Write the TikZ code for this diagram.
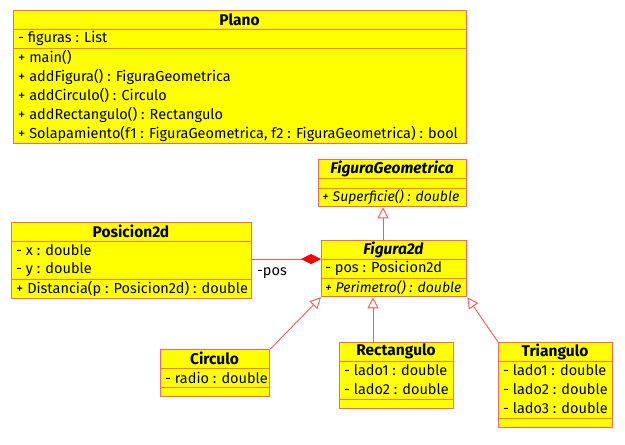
\documentclass[tikz,border=0pt]{standalone}
\usepackage{fontspec}
\setmainfont{Fira Sans}
\usetikzlibrary{arrows.meta}
\definecolor{umlfill}{RGB}{255,255,0}
\definecolor{umlborder}{RGB}{255,100,100}
\definecolor{umlsep}{RGB}{255,125,20}
\definecolor{umlline}{RGB}{255,85,85}
\begin{document}
\begin{tikzpicture}[x=1pt,y=-1pt,font=\fontsize{14.5}{16}\selectfont,
	classbox/.style={draw=umlborder,fill=umlfill,line width=1.3pt,inner sep=0pt,anchor=north west},
	member/.style={anchor=west,inner sep=0pt},
	opmember/.style={anchor=west,inner sep=0pt,font=\fontsize{14}{16}\selectfont\itshape},
	title/.style={inner sep=0pt,font=\fontsize{15.5}{16}\selectfont\bfseries},
	abstract/.style={inner sep=0pt,font=\fontsize{15.5}{16}\selectfont\bfseries\itshape},
	sep/.style={draw=umlsep,line width=1pt},
	inherit/.style={draw=umlline,line width=0.9pt,-{Triangle[open,length=11pt,width=11pt,fill=white]}},
	compose/.style={draw=umlline,line width=0.9pt,-{Diamond[length=20pt,width=10pt,fill=red,color=red]}}]
	\useasboundingbox (0,0) rectangle (625,445);
	% boxes
	\node[classbox,minimum width=453pt,minimum height=133pt] (plano) at (13,10) {};
	\node[classbox,minimum width=148pt,minimum height=47pt] (figgeo) at (318,159) {};
	\node[classbox,minimum width=145pt,minimum height=56pt] (fig2d) at (321,240) {};
	\node[classbox,minimum width=240pt,minimum height=76pt] (pos2d) at (11,222) {};
	\node[classbox,minimum width=109pt,minimum height=47pt] (circulo) at (160,349) {};
	\node[classbox,minimum width=114pt,minimum height=66pt] (rect) at (339,342) {};
	\node[classbox,minimum width=114pt,minimum height=85pt] (tri) at (498,342) {};
	% separators
	\foreach \b/\ya/\yb in {plano/29/48,figgeo/178/188,fig2d/259/278,pos2d/241/279,circulo/368/387,rect/361/399,tri/361/418}{
		\draw[sep] (\b.west |- 0,\ya) -- (\b.east |- 0,\ya);
		\draw[sep] (\b.west |- 0,\yb) -- (\b.east |- 0,\yb);
	}
	% Plano
	\node[title] (plano-t) at (239.5,19.5) {Plano};
	\node[member] (plano-a) at (18,38.5) {- figuras : List};
	\foreach \t [count=\i] in {{+ main()},{+ addFigura() : FiguraGeometrica},{+ addCirculo() : Circulo},{+ addRectangulo() : Rectangulo},{+ Solapamiento(f1 : FiguraGeometrica, f2 : FiguraGeometrica) : bool}}
		\node[member] (plano-m\i) at (18,38.5+19*\i) {\t};
	% FiguraGeometrica
	\node[abstract] (figgeo-t) at (392,168.5) {FiguraGeometrica};
	\node[opmember] (figgeo-m) at (322,197) {+ Superficie() : double};
	% Figura2d
	\node[abstract] (fig2d-t) at (393.5,249.5) {Figura2d};
	\node[member] (fig2d-a) at (325,268.5) {- pos : Posicion2d};
	\node[opmember] (fig2d-m) at (325,287.5) {+ Perimetro() : double};
	% Posicion2d
	\node[title] (pos2d-t) at (131,231.5) {Posicion2d};
	\foreach \t [count=\i] in {x,y}
		\node[member] (pos2d-a\i) at (16,231.5+19*\i) {- \t\ : double};
	\node[member] (pos2d-m) at (16,288.5) {+ Distancia(p : Posicion2d) : double};
	% Circulo, Rectangulo, Triangulo
	\node[title] (circulo-t) at (214.5,358.5) {Circulo};
	\node[member] (circulo-a) at (165,377.5) {- radio : double};
	\node[title] (rect-t) at (396,351.5) {Rectangulo};
	\node[title] (tri-t) at (555,351.5) {Triangulo};
	\foreach \i in {1,2}
		\node[member] (rect-a\i) at (344,351+19*\i) {- lado\i\ : double};
	\foreach \i in {1,2,3}
		\node[member] (tri-a\i) at (503,351+19*\i) {- lado\i\ : double};
	% connectors
	\draw[inherit] (fig2d.north -| 383,0) -- (figgeo.south -| 383,0);
	\draw[inherit] (circulo.north east) -- (fig2d.south west);
	\draw[inherit] (rect.north -| 373,0) -- (fig2d.south -| 373,0);
	\draw[inherit] (tri.north west) -- (fig2d.south east);
	\draw[compose] (pos2d.east |- 0,259) -- (fig2d.west |- 0,259);
	\node[inner sep=0pt] (pos-label) at (272,273) {-pos};
\end{tikzpicture}
\end{document}
